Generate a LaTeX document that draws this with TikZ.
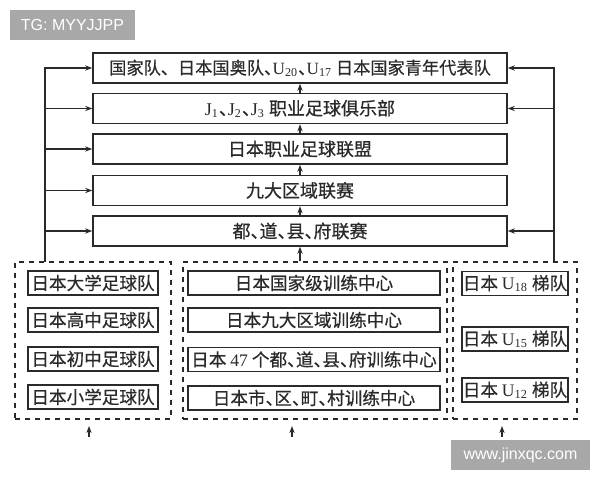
\documentclass[tikz,border=0pt]{standalone}
\usepackage{fontspec}
\setmainfont{Noto Sans CJK SC}[FakeBold=0.5]
\newfontfamily\serifx{Liberation Serif}
\newfontfamily\wmfont{Liberation Sans}
\usetikzlibrary{arrows.meta}
\newcommand\latsub[2]{{\serifx #1\textsubscript{#2}}}
\newcommand\hdun{\makebox[0.5em][l]{、}}
\definecolor{ink}{HTML}{2A2A2A}
\definecolor{wmgray}{HTML}{A8A8A8}
\begin{document}
\begin{tikzpicture}[x=0.5pt,y=-0.5pt,
  topbox/.style={draw=ink,line width=0.8pt,minimum width=207pt,minimum height=15pt,inner sep=0pt,text=ink,font=\fontsize{9pt}{10pt}\selectfont},
  inbox/.style={draw=ink,line width=0.8pt,minimum height=12pt,inner sep=0pt,text=ink,font=\fontsize{8.8pt}{10pt}\selectfont},
  dbox/.style={draw=ink,line width=0.6pt,dash pattern=on 2.5pt off 2.5pt,minimum height=78.5pt,inner sep=0pt},
  arr/.style={draw=ink,line width=0.55pt,-{Stealth[length=3.5pt,width=2.6pt]}},
  wmbox/.style={fill=wmgray,text=white,inner sep=0pt,minimum height=15pt,font=\wmfont\fontsize{8pt}{9pt}\selectfont}
]
\useasboundingbox (0,0) rectangle (600,480);
\fill[white] (0,0) rectangle (600,480);

% top boxes
\node[topbox,font=\fontsize{8.6pt}{10pt}\selectfont] (b1) at (300,68) {国家队、日本国奥队\hdun\latsub{U}{20}\hdun\latsub{U}{17} 日本国家青年代表队};
\node[topbox] (b2) at (300,108.5) {\latsub{J}{1}\hdun\latsub{J}{2}\hdun\latsub{J}{3} 职业足球俱乐部};
\node[topbox] (b3) at (300,149) {日本职业足球联盟};
\node[topbox] (b4) at (300,190.5) {九大区域联赛};
\node[topbox] (b5) at (300,231) {都\hdun 道\hdun 县\hdun 府联赛};

% dashed groups
\node[dbox,minimum width=78pt] (dl) at (93,340.5) {};
\node[dbox,minimum width=132pt] (dm) at (315,340.5) {};
\node[dbox,minimum width=62pt] (dr) at (515,340.5) {};

% left inner
\node[inbox,minimum width=65pt] (l1) at (93,283) {日本大学足球队};
\node[inbox,minimum width=65pt] (l2) at (93,320) {日本高中足球队};
\node[inbox,minimum width=65pt] (l3) at (93,359) {日本初中足球队};
\node[inbox,minimum width=65pt] (l4) at (93,397) {日本小学足球队};

% middle inner
\node[inbox,minimum width=126pt] (m1) at (314,283) {日本国家级训练中心};
\node[inbox,minimum width=126pt] (m2) at (314,320) {日本九大区域训练中心};
\node[inbox,minimum width=126pt] (m3) at (314,359.5) {日本 {\serifx 47} 个都\hdun 道\hdun 县\hdun 府训练中心};
\node[inbox,minimum width=126pt] (m4) at (314,398) {日本市\hdun 区\hdun 町\hdun 村训练中心};

% right inner
\node[inbox,minimum width=53pt] (r1) at (515,283.5) {日本 \latsub{U}{18} 梯队};
\node[inbox,minimum width=53pt] (r2) at (515,339) {日本 \latsub{U}{15} 梯队};
\node[inbox,minimum width=53pt] (r3) at (515,390) {日本 \latsub{U}{12} 梯队};

% central upward arrows
\draw[arr] (b2.north) -- (b1.south);
\draw[arr] (b3.north) -- (b2.south);
\draw[arr] (b4.north) -- (b3.south);
\draw[arr] (b5.north) -- (b4.south);
\draw[arr] (dm.north -| b5.south) -- (b5.south);

% left feed line
\coordinate (L) at (45,262);
\draw[arr] (L) |- (b1.west);
\draw[arr] (L) |- (b2.west);
\draw[arr] (L) |- (b3.west);
\draw[arr] (L) |- (b4.west);
\draw[arr] (L) |- (b5.west);

% right feed line
\coordinate (R) at (554,262);
\draw[arr] (R) |- (b1.east);
\draw[arr] (R) |- (b2.east);
\draw[arr] (R) |- (b5.east);

% bottom inputs
\coordinate (il) at (89,437);
\coordinate (im) at (292,437);
\coordinate (ir) at (502,437);
\coordinate (tl) at (89,426);
\coordinate (tm) at (292,426);
\coordinate (tr) at (502,426);
\draw[arr] (il) -- (tl);
\draw[arr] (im) -- (tm);
\draw[arr] (ir) -- (tr);

% watermarks
\node[wmbox,minimum width=62.5pt] (wm1) at (72.5,25) {TG: MYYJJPP};
\node[wmbox,minimum width=69.5pt] (wm2) at (520.5,455) {www.jinxqc.com};
\end{tikzpicture}
\end{document}
